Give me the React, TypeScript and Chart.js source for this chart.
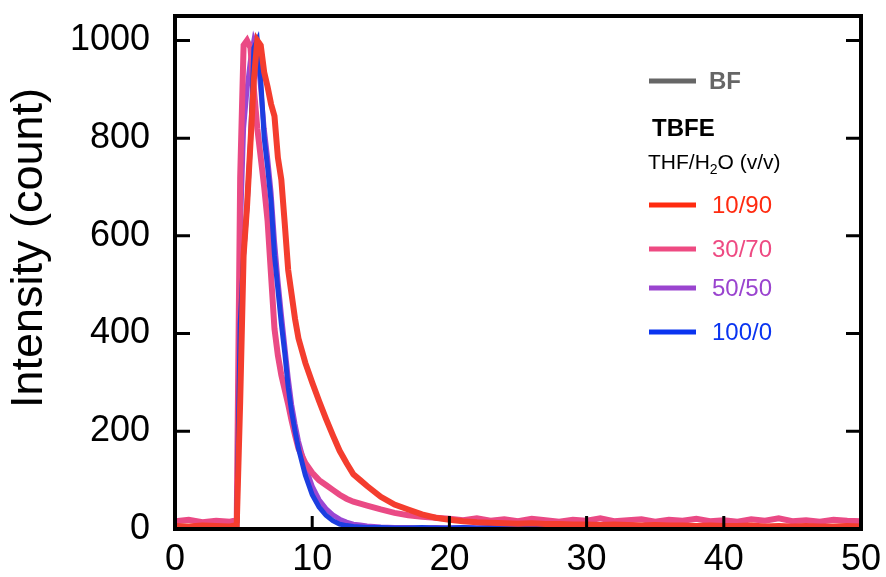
import React, { useEffect, useRef } from "react";
import { Chart, registerables } from "chart.js";

Chart.register(...registerables);

const FONT = '"Liberation Sans", Arial, Helvetica, sans-serif';

// Time axis (ns)
const timeNs = [
  0, 1, 2, 3, 4,
  4.5, 4.75, 5, 5.25, 5.5, 5.75, 6, 6.25, 6.5, 6.75, 7, 7.25, 7.5, 7.75, 8, 8.25, 8.5, 8.75, 9,
  9.5, 10, 10.5, 11, 11.5, 12, 12.5, 13, 13.5, 14,
  15, 16, 17, 18, 19, 20, 21, 22, 23, 24, 25, 26, 27, 28, 29, 30, 31, 32,
  33, 34, 35, 36, 37, 38, 39, 40, 41, 42, 43, 44, 45, 46, 47, 48, 49, 50,
];

// TBFE 10/90
const tbfe10_90 = [
  6, 5, 7, 6, 5,
  8, 260, 560, 660, 790, 920, 1000, 990, 935, 905, 870, 845, 760, 715, 625, 530, 480, 430, 390,
  340, 300, 262, 226, 192, 160, 135, 112, 100, 88,
  66, 50, 40, 30, 23, 19, 16, 14, 13, 12, 11, 12, 10, 10, 9, 9, 8, 9,
  8, 7, 8, 7, 7, 6, 7, 6, 6, 7, 5, 6, 5, 6, 5, 5, 6, 5,
];

// TBFE 30/70
const tbfe30_70 = [
  16, 19, 14, 17, 15,
  18, 720, 990, 1000, 985, 900, 820, 760, 700, 630, 520, 410, 355, 315, 285, 255, 222, 192, 165,
  135, 115, 100, 90, 80, 70, 62, 56, 52, 48,
  40, 33, 28, 25, 23, 21, 18, 22, 17, 20, 16, 21, 18, 15, 19, 17, 22, 16,
  18, 20, 15, 19, 17, 21, 16, 18, 15, 20, 17, 22, 16, 18, 15, 19, 17, 16,
];

// TBFE 50/50
const tbfe50_50 = [
  3, 2, 4, 2, 3,
  5, 600, 820, 900, 960, 1000, 980, 900, 820, 760, 690, 590, 510, 440, 375, 310, 255, 215, 180,
  128, 88, 60, 42, 29, 20, 14, 10, 8, 6,
  4, 3, 3, 2, 3, 2, 3, 2, 2, 3, 2, 2, 3, 2, 2, 2, 3, 2,
  2, 2, 3, 2, 2, 2, 3, 2, 2, 2, 2, 3, 2, 2, 2, 3, 2, 2,
];

// TBFE 100/0
const tbfe100_0 = [
  1, 2, 1, 2, 1,
  3, 420, 560, 660, 790, 985, 1000, 920, 800, 740, 670, 560, 490, 420, 360, 290, 240, 200, 165,
  110, 70, 45, 28, 17, 10, 7, 5, 4, 3,
  3, 2, 2, 3, 2, 2, 3, 2, 3, 2, 2, 3, 2, 2, 3, 2, 2, 2,
  3, 2, 2, 3, 2, 2, 2, 3, 2, 3, 2, 2, 2, 3, 2, 2, 3, 2,
];

const xTickValues = [0, 10, 20, 30, 40, 50];
const yTickValues = [0, 200, 400, 600, 800, 1000];

const seriesNames = ["10/90", "30/70", "50/50", "100/0"];
const seriesColors = ["#f43d2e", "#ea4a85", "#9b46d2", "#1c3ee0"];
const seriesWidths = [6, 6, 5, 5];
const legendColors = ["#ff2b10", "#ee4a82", "#9a44cf", "#0a34f0"];
const yTitle = "Intensity (count)";

export default function App() {
  const ref = useRef<HTMLCanvasElement>(null);

  useEffect(() => {
    const canvas = ref.current;
    if (!canvas) return;
    const mk = (ys: number[]) => timeNs.map((t, i) => ({ x: t, y: ys[i] }));

    const framePlugin = {
      id: "frameAndLegend",
      afterDraw(chart: any) {
        const { ctx, chartArea: a, scales } = chart;
        const xs = scales.x;
        const ys = scales.y;
        ctx.save();
        ctx.strokeStyle = "#000";
        ctx.lineWidth = 4;
        ctx.strokeRect(a.left, a.top, a.right - a.left, a.bottom - a.top);
        ctx.lineWidth = 3;
        ctx.beginPath();
        for (const v of yTickValues) {
          const y = ys.getPixelForValue(v);
          ctx.moveTo(a.left, y);
          ctx.lineTo(a.left + 15, y);
          ctx.moveTo(a.right, y);
          ctx.lineTo(a.right - 15, y);
        }
        for (const v of xTickValues) {
          const x = xs.getPixelForValue(v);
          ctx.moveTo(x, a.bottom);
          ctx.lineTo(x, a.bottom - 13);
        }
        ctx.stroke();

        // y title
        ctx.save();
        ctx.translate(30, 248);
        ctx.rotate(-Math.PI / 2);
        ctx.fillStyle = "#000";
        ctx.font = `45px ${FONT}`;
        ctx.textAlign = "center";
        ctx.textBaseline = "middle";
        ctx.fillText(yTitle, 0, 0);
        ctx.restore();

        // legend
        const lx0 = 649;
        const lx1 = 696;
        const drawLine = (y: number, color: string) => {
          ctx.strokeStyle = color;
          ctx.lineWidth = 5;
          ctx.beginPath();
          ctx.moveTo(lx0, y);
          ctx.lineTo(lx1, y);
          ctx.stroke();
        };
        ctx.textBaseline = "alphabetic";
        ctx.textAlign = "left";
        drawLine(81, "#666666");
        ctx.fillStyle = "#666666";
        ctx.font = `bold 24px ${FONT}`;
        ctx.fillText("BF", 709, 89);

        ctx.fillStyle = "#000";
        ctx.font = `bold 24px ${FONT}`;
        ctx.fillText("TBFE", 652, 136);

        ctx.font = `21px ${FONT}`;
        let x = 648;
        const base = 169;
        ctx.fillText("THF/H", x, base);
        x += ctx.measureText("THF/H").width;
        ctx.font = `14px ${FONT}`;
        ctx.fillText("2", x, base + 5);
        x += ctx.measureText("2").width;
        ctx.font = `21px ${FONT}`;
        ctx.fillText("O (v/v)", x, base);

        const ly = [205, 249, 288, 332];
        ctx.font = `24px ${FONT}`;
        seriesNames.forEach((n, i) => {
          drawLine(ly[i], legendColors[i]);
          ctx.fillStyle = legendColors[i];
          ctx.fillText(n, 712, ly[i] + 8);
        });
        ctx.restore();
      },
    };

    const chart = new Chart(canvas, {
      type: "line",
      data: {
        datasets: [
          { label: seriesNames[0], data: mk(tbfe10_90), borderColor: seriesColors[0], borderWidth: seriesWidths[0], order: 0 },
          { label: seriesNames[1], data: mk(tbfe30_70), borderColor: seriesColors[1], borderWidth: seriesWidths[1], order: 2 },
          { label: seriesNames[2], data: mk(tbfe50_50), borderColor: seriesColors[2], borderWidth: seriesWidths[2], order: 3 },
          { label: seriesNames[3], data: mk(tbfe100_0), borderColor: seriesColors[3], borderWidth: seriesWidths[3], order: 1 },
        ].map((d) => ({
          ...d,
          pointRadius: 0,
          tension: 0,
          fill: false,
          borderJoinStyle: "miter" as const,
        })),
      },
      options: {
        responsive: false,
        animation: false,
        devicePixelRatio: 1,
        layout: { padding: { top: 16, right: 25, left: 0, bottom: 0 } },
        plugins: { legend: { display: false }, tooltip: { enabled: false } },
        scales: {
          x: {
            type: "linear",
            min: 0,
            max: 50,
            grid: { display: false, drawTicks: false },
            border: { display: false },
            afterBuildTicks: (s: any) => {
              s.ticks = xTickValues.map((v) => ({ value: v }));
            },
            afterFit: (s: any) => {
              s.height = 48;
              s.paddingLeft = 0;
              s.paddingRight = 0;
            },
            ticks: {
              color: "#000",
              padding: 9,
              maxRotation: 0,
              font: { family: FONT, size: 36 },
              callback: (v: any) => String(v),
            },
          },
          y: {
            type: "linear",
            min: 0,
            max: 1050,
            grid: { display: false, drawTicks: false },
            border: { display: false },
            afterBuildTicks: (s: any) => {
              s.ticks = yTickValues.map((v) => ({ value: v }));
            },
            afterFit: (s: any) => {
              s.width = 175;
              s.paddingTop = 0;
              s.paddingBottom = 0;
            },
            ticks: {
              color: "#000",
              padding: 25,
              font: { family: FONT, size: 36 },
              callback: (v: any) => String(v),
            },
          },
        },
      },
      plugins: [framePlugin],
    });
    return () => chart.destroy();
  }, []);

  return (
    <div style={{ position: "fixed", left: 0, top: 0, width: 886, height: 577, background: "#fff" }}>
      <canvas ref={ref} width={886} height={577} style={{ display: "block" }} />
    </div>
  );
}
